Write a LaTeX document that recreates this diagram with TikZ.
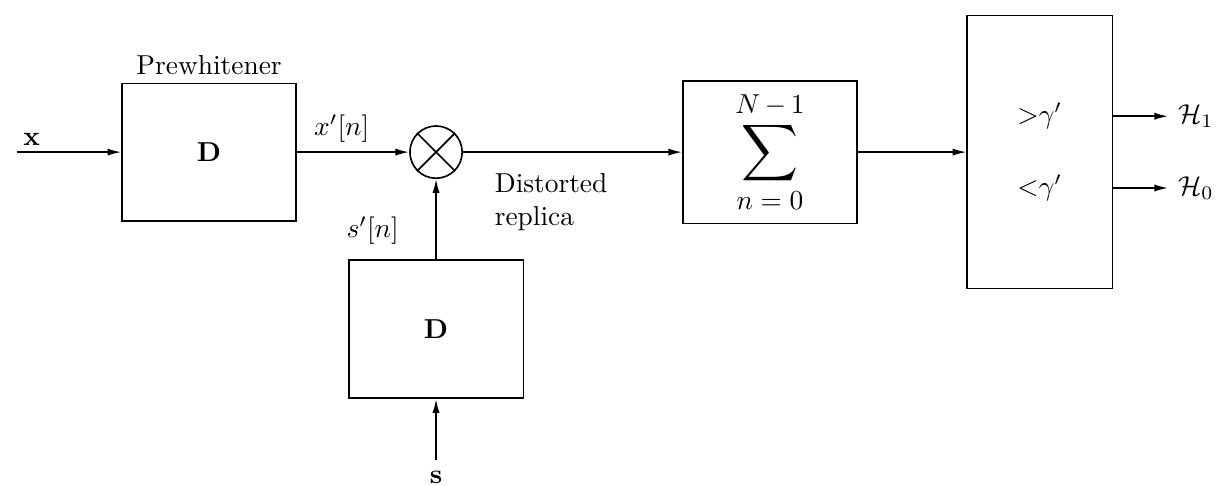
\documentclass[tikz,border=0pt]{standalone}
\usepackage{amsmath}
\usepackage{amsfonts}
\usepackage{tikz}
\usetikzlibrary{shapes, arrows.meta, positioning}
\tikzstyle{block}=[draw,fill=white,rectangle,semithick]
\tikzstyle{mult}=[draw,circle,semithick,minimum size=0.67cm,inner sep=0pt]

\begin{document}
\begin{tikzpicture}[node distance=2.9cm,>={Latex[length=5pt,width=2.6pt]},semithick]
    \useasboundingbox (-2.68,-4.28) rectangle (12.96,1.95);
    \node[block, minimum width=2.23cm, minimum height=1.76cm] (pre) {$\mathbf{D}$};
    \node[above of=pre, node distance=1.12cm] (pretitle) {Prewhitener};
    \coordinate[left of=pre, node distance=2.46cm] (xin);
    \node[above right, inner sep=2pt] (xlbl) at (xin) {$\mathbf{x}$};
    \node[mult, right of=pre, node distance=2.91cm] (mult) {};
    \node[block, below of=mult, node distance=2.27cm, minimum width=2.24cm, minimum height=1.77cm] (dist) {$\mathbf{D}$};
    \coordinate[below of=dist, node distance=1.68cm] (sin);
    \node[below of=sin, node distance=0.22cm, inner sep=0.5pt] (slbl) {$\mathbf{s}$};
    \node[block, right of=mult, node distance=4.28cm, minimum width=2.23cm, minimum height=1.83cm] (sum) {\Large$\displaystyle\sum_{n\;=\;0}^{N\,-\,1}$};
    \node[block, right of=sum, node distance=3.46cm, minimum width=1.86cm, minimum height=3.5cm] (dec) {};
    \node[above of=dec, node distance=0.46cm] (gt) {${>}\gamma'$};
    \node[below of=dec, node distance=0.46cm] (lt) {${<}\gamma'$};
    \node[right of=gt, node distance=2cm] (h1) {$\mathcal{H}_1$};
    \node[right of=lt, node distance=2cm] (h0) {$\mathcal{H}_0$};
    \node[below right=0.15cm and 0.28cm of mult.east, align=left] (rep) {Distorted\\replica};
    \draw[->] (xin) -- (pre);
    \draw[->] (pre) -- node[above, pos=.4] (xp) {$x'[n]$} (mult);
    \draw[->] (dist) -- node[left=0.35cm, pos=.36] (sp) {$s'[n]$} (mult);
    \draw[->] (sin) -- (dist);
    \draw (mult.north west) -- (mult.south east);
    \draw (mult.north east) -- (mult.south west);
    \draw[->] (mult) -- (sum);
    \draw[->] (sum) -- (dec);
    \draw[->] (dec.east |- h1) -- (h1);
    \draw[->] (dec.east |- h0) -- (h0);
\end{tikzpicture}
\end{document}
